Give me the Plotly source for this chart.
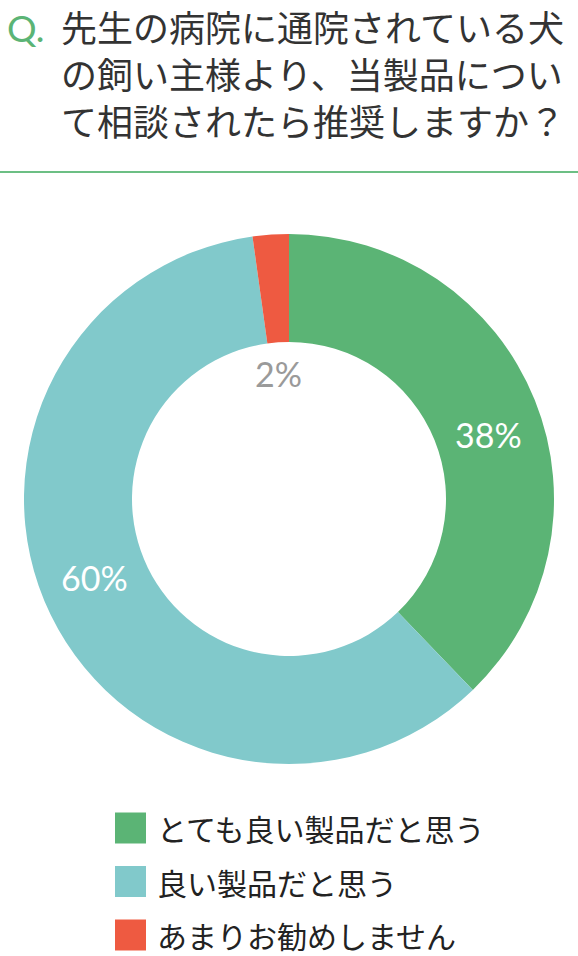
import math
import plotly.graph_objects as go

W, H = 578, 956

categories = ["とても良い製品だと思う", "良い製品だと思う", "あまりお勧めしません"]
percents = [37.8, 60.0, 2.2]
colors = ["#5bb475", "#81c9cb", "#ee5a41"]
label_colors = ["white", "white", "#9a9a9a"]

question_mark = "Q."
question_lines = [
    "先生の病院に通院されている犬",
    "の飼い主様より、当製品につい",
    "て相談されたら推奨しますか？",
]

JP_FONT = "Noto Sans CJK JP"
NUM_FONT = "Lato"


def px(x):
    return x / W


def py(y):
    return 1 - y / H


# donut geometry (pixels)
cx, cy, r_out, r_in = 289, 499, 265, 157

fig = go.Figure()
fig.add_trace(go.Pie(
    labels=categories,
    values=percents,
    marker=dict(colors=colors, line=dict(width=0)),
    hole=r_in / r_out,
    sort=False,
    direction="clockwise",
    rotation=0,
    textinfo="none",
    hoverinfo="label+percent",
    showlegend=False,
    domain=dict(x=[px(cx - r_out), px(cx + r_out)], y=[py(cy + r_out), py(cy - r_out)]),
))

annotations = []

# percentage labels: ring labels sit a little past the slice middle,
# the tiny slice gets its label inside the hole
total = sum(percents)
acc = 0
for i, v in enumerate(percents):
    mid = (acc + v / 2) / total * 360
    acc += v
    if v / total < 0.05:
        ang, lr = math.radians(mid - 1), 126
    else:
        ang, lr = math.radians(mid + 4), 210
    annotations.append(dict(
        x=px(cx + lr * math.sin(ang)), y=py(cy - lr * math.cos(ang)),
        xref="paper", yref="paper", showarrow=False,
        text=f"{round(v)}%", font=dict(family=NUM_FONT, size=34, color=label_colors[i]),
        xanchor="center", yanchor="middle",
    ))

# question title
annotations.append(dict(
    x=px(5), y=py(27), xref="paper", yref="paper", showarrow=False,
    text=question_mark, font=dict(family=NUM_FONT, size=37, color="#5bb475"),
    xanchor="left", yanchor="middle",
))
for i, line in enumerate(question_lines):
    annotations.append(dict(
        x=px(59), y=py(26 + i * 47), xref="paper", yref="paper", showarrow=False,
        text=line, font=dict(family=JP_FONT, size=36, color="#333333"),
        xanchor="left", yanchor="middle",
    ))

# separator + legend
shapes = [dict(type="line", xref="paper", yref="paper",
               x0=0, x1=1, y0=py(172), y1=py(172),
               line=dict(color="#6cbf84", width=2))]
for i, (cat, col) in enumerate(zip(categories, colors)):
    yc = 828 + i * 53.5
    shapes.append(dict(
        type="rect", xref="paper", yref="paper",
        x0=px(115), x1=px(146), y0=py(yc + 15.5), y1=py(yc - 15.5),
        fillcolor=col, line=dict(width=0),
    ))
    annotations.append(dict(
        x=px(155), y=py(yc), xref="paper", yref="paper", showarrow=False,
        text=cat, font=dict(family=JP_FONT, size=30, color="#222222"),
        xanchor="left", yanchor="middle",
    ))

fig.update_layout(
    width=W, height=H,
    margin=dict(l=0, r=0, t=0, b=0),
    paper_bgcolor="white",
    plot_bgcolor="white",
    annotations=annotations,
    shapes=shapes,
)

# drop the page's default body margin so the figure fills the window
fig.write_html("out.html", config={"displayModeBar": False},
               post_script="document.body.style.margin='0';")
